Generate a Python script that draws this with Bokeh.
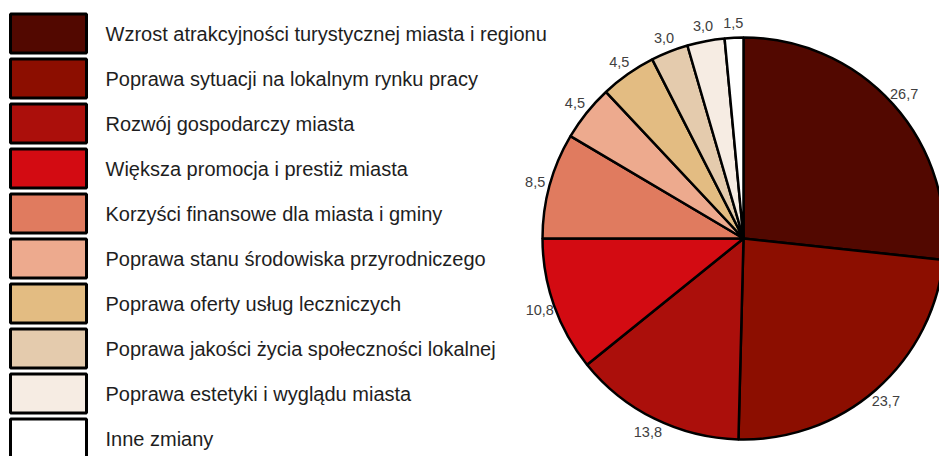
import math
from bokeh.plotting import figure
from bokeh.models import Range1d, ColumnDataSource
from bokeh.core.properties import value
from bokeh.embed import file_html
from bokeh.resources import INLINE

categories = [
    "Wzrost atrakcyjności turystycznej miasta i regionu",
    "Poprawa sytuacji na lokalnym rynku pracy",
    "Rozwój gospodarczy miasta",
    "Większa promocja i prestiż miasta",
    "Korzyści finansowe dla miasta i gminy",
    "Poprawa stanu środowiska przyrodniczego",
    "Poprawa oferty usług leczniczych",
    "Poprawa jakości życia społeczności lokalnej",
    "Poprawa estetyki i wyglądu miasta",
    "Inne zmiany",
]
values = [26.7, 23.7, 13.8, 10.8, 8.5, 4.5, 4.5, 3.0, 3.0, 1.5]
colors = ["#520800", "#8C0E00", "#AB0F0B", "#D30B12", "#E07B5F",
          "#EDAA8E", "#E3BC82", "#E4CBAD", "#F6ECE3", "#FFFFFF"]

W, H = 939, 456
p = figure(width=W, height=H, output_backend="svg", toolbar_location=None,
           x_range=Range1d(0, W), y_range=Range1d(0, H), min_border=0)
p.axis.visible = False
p.grid.visible = False
p.outline_line_color = None
p.background_fill_color = "white"
p.border_fill_color = "white"

# pie
cx, cy, r = 743, H - 238, 201
total = sum(values)
starts, ends, lx, ly, labels = [], [], [], [], []
cum = 0.0
for v in values:
    a0 = math.pi / 2 - 2 * math.pi * cum / total
    a1 = math.pi / 2 - 2 * math.pi * (cum + v) / total
    starts.append(a0)
    ends.append(a1)
    mid = (a0 + a1) / 2
    lx.append(cx + 216 * math.cos(mid))
    ly.append(cy + 216 * math.sin(mid))
    labels.append(f"{v:.1f}".replace(".", ","))
    cum += v

src = ColumnDataSource(dict(start=starts, end=ends, color=colors))
p.wedge(x=cx, y=cy, radius=r, start_angle="start", end_angle="end",
        direction="clock", fill_color="color", line_color="black",
        line_width=2.5, source=src)

p.text(x=lx, y=ly, text=labels, text_align="center", text_baseline="middle",
       text_font=value("Liberation Sans"), text_font_size="14.5px",
       text_color="#404040")

# legend
n = len(categories)
ys = [H - (33 + 45 * i) for i in range(n)]
p.rect(x=[48] * n, y=ys, width=76, height=39, fill_color=colors,
       line_color="black", line_width=3)
p.text(x=[105] * n, y=ys, text=categories, text_align="left",
       text_baseline="middle", text_font=value("Liberation Sans"),
       text_font_size="20px", text_color="#1e1e1e")

open("out.html", "w").write(file_html(p, INLINE))
